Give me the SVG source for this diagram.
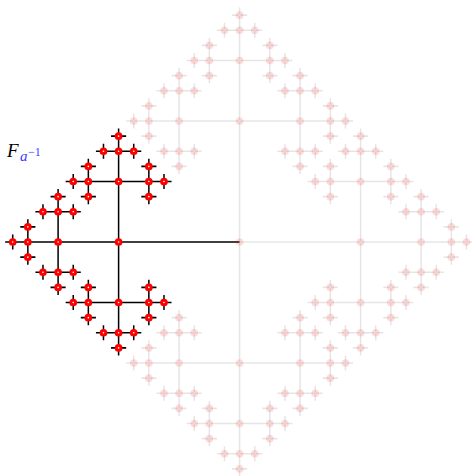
<svg xmlns="http://www.w3.org/2000/svg" xmlns:xlink="http://www.w3.org/1999/xlink" width="472" height="476" viewBox="0 0 472 476">
<style>
.e{fill:none;stroke:#000;stroke-width:.2}
.f{opacity:.1}
.n{fill:#fff;stroke:#f00;stroke-width:.4}
.fn .n{opacity:.13}
.lbl{font-family:"Liberation Serif","Times New Roman",serif;font-style:italic}
</style>
<defs>
<path id="sub" d="M0,0H-16M-16,-8V8M-16,0H-24M-24,-4V4M-24,0H-28M-20,-8H-12M-16,-8V-12M-20,8H-12M-16,8V12M-28,-2V2M-28,0H-30M-26,-4H-22M-24,-4V-6M-26,4H-22M-24,4V6M-18,-12H-14M-16,-12V-14M-20,-10V-6M-20,-8H-22M-12,-10V-6M-12,-8H-10M-18,12H-14M-16,12V14M-20,6V10M-20,8H-22M-12,6V10M-12,8H-10M-30,-1V1M-30,0H-31M-29,-2H-27M-28,-2V-3M-29,2H-27M-28,2V3M-25,-6H-23M-24,-6V-7M-26,-5V-3M-26,-4H-27M-22,-5V-3M-22,-4H-21M-25,6H-23M-24,6V7M-26,3V5M-26,4H-27M-22,3V5M-22,4H-21M-17,-14H-15M-16,-14V-15M-18,-13V-11M-18,-12H-19M-14,-13V-11M-14,-12H-13M-22,-9V-7M-22,-8H-23M-21,-10H-19M-20,-10V-11M-21,-6H-19M-20,-6V-5M-10,-9V-7M-10,-8H-9M-13,-10H-11M-12,-10V-11M-13,-6H-11M-12,-6V-5M-17,14H-15M-16,14V15M-18,11V13M-18,12H-19M-14,11V13M-14,12H-13M-22,7V9M-22,8H-23M-21,6H-19M-20,6V5M-21,10H-19M-20,10V11M-10,7V9M-10,8H-9M-13,6H-11M-12,6V5M-13,10H-11M-12,10V11"/>
</defs>
<g id="connectors" transform="translate(239.6,242) scale(7.5625)">
<g class="e">
<use xlink:href="#sub" class="f" transform="scale(-1,1)"/>
<use xlink:href="#sub" class="f" transform="matrix(0,1,1,0,0,0)"/>
<use xlink:href="#sub" class="f" transform="matrix(0,-1,1,0,0,0)"/>
<use xlink:href="#sub"/>
</g>
</g>
<g id="nodes" transform="translate(239.6,242) scale(7.5625)">
<g class="fn">
<g id="e"><circle class="n" cx="0" cy="0" r=".31"/></g>
<g id="branch-a" transform="scale(-1,1)">
<g id="R01"><circle class="n" cx="-16" cy="0" r=".31"/></g>
<g id="R02"><circle class="n" cx="-24" cy="0" r=".31"/></g>
<g id="R03"><circle class="n" cx="-16" cy="-8" r=".31"/></g>
<g id="R04"><circle class="n" cx="-16" cy="8" r=".31"/></g>
<g id="R05"><circle class="n" cx="-28" cy="0" r=".31"/></g>
<g id="R06"><circle class="n" cx="-24" cy="-4" r=".31"/></g>
<g id="R07"><circle class="n" cx="-24" cy="4" r=".31"/></g>
<g id="R08"><circle class="n" cx="-16" cy="-12" r=".31"/></g>
<g id="R09"><circle class="n" cx="-20" cy="-8" r=".31"/></g>
<g id="R10"><circle class="n" cx="-12" cy="-8" r=".31"/></g>
<g id="R11"><circle class="n" cx="-16" cy="12" r=".31"/></g>
<g id="R12"><circle class="n" cx="-20" cy="8" r=".31"/></g>
<g id="R13"><circle class="n" cx="-12" cy="8" r=".31"/></g>
<g id="R14"><circle class="n" cx="-30" cy="0" r=".31"/></g>
<g id="R15"><circle class="n" cx="-28" cy="-2" r=".31"/></g>
<g id="R16"><circle class="n" cx="-28" cy="2" r=".31"/></g>
<g id="R17"><circle class="n" cx="-24" cy="-6" r=".31"/></g>
<g id="R18"><circle class="n" cx="-26" cy="-4" r=".31"/></g>
<g id="R19"><circle class="n" cx="-22" cy="-4" r=".31"/></g>
<g id="R20"><circle class="n" cx="-24" cy="6" r=".31"/></g>
<g id="R21"><circle class="n" cx="-26" cy="4" r=".31"/></g>
<g id="R22"><circle class="n" cx="-22" cy="4" r=".31"/></g>
<g id="R23"><circle class="n" cx="-16" cy="-14" r=".31"/></g>
<g id="R24"><circle class="n" cx="-18" cy="-12" r=".31"/></g>
<g id="R25"><circle class="n" cx="-14" cy="-12" r=".31"/></g>
<g id="R26"><circle class="n" cx="-22" cy="-8" r=".31"/></g>
<g id="R27"><circle class="n" cx="-20" cy="-10" r=".31"/></g>
<g id="R28"><circle class="n" cx="-20" cy="-6" r=".31"/></g>
<g id="R29"><circle class="n" cx="-10" cy="-8" r=".31"/></g>
<g id="R30"><circle class="n" cx="-12" cy="-10" r=".31"/></g>
<g id="R31"><circle class="n" cx="-12" cy="-6" r=".31"/></g>
<g id="R32"><circle class="n" cx="-16" cy="14" r=".31"/></g>
<g id="R33"><circle class="n" cx="-18" cy="12" r=".31"/></g>
<g id="R34"><circle class="n" cx="-14" cy="12" r=".31"/></g>
<g id="R35"><circle class="n" cx="-22" cy="8" r=".31"/></g>
<g id="R36"><circle class="n" cx="-20" cy="6" r=".31"/></g>
<g id="R37"><circle class="n" cx="-20" cy="10" r=".31"/></g>
<g id="R38"><circle class="n" cx="-10" cy="8" r=".31"/></g>
<g id="R39"><circle class="n" cx="-12" cy="6" r=".31"/></g>
<g id="R40"><circle class="n" cx="-12" cy="10" r=".31"/></g>
</g>
<g id="branch-b" transform="matrix(0,1,1,0,0,0)">
<g id="U01"><circle class="n" cx="-16" cy="0" r=".31"/></g>
<g id="U02"><circle class="n" cx="-24" cy="0" r=".31"/></g>
<g id="U03"><circle class="n" cx="-16" cy="-8" r=".31"/></g>
<g id="U04"><circle class="n" cx="-16" cy="8" r=".31"/></g>
<g id="U05"><circle class="n" cx="-28" cy="0" r=".31"/></g>
<g id="U06"><circle class="n" cx="-24" cy="-4" r=".31"/></g>
<g id="U07"><circle class="n" cx="-24" cy="4" r=".31"/></g>
<g id="U08"><circle class="n" cx="-16" cy="-12" r=".31"/></g>
<g id="U09"><circle class="n" cx="-20" cy="-8" r=".31"/></g>
<g id="U10"><circle class="n" cx="-12" cy="-8" r=".31"/></g>
<g id="U11"><circle class="n" cx="-16" cy="12" r=".31"/></g>
<g id="U12"><circle class="n" cx="-20" cy="8" r=".31"/></g>
<g id="U13"><circle class="n" cx="-12" cy="8" r=".31"/></g>
<g id="U14"><circle class="n" cx="-30" cy="0" r=".31"/></g>
<g id="U15"><circle class="n" cx="-28" cy="-2" r=".31"/></g>
<g id="U16"><circle class="n" cx="-28" cy="2" r=".31"/></g>
<g id="U17"><circle class="n" cx="-24" cy="-6" r=".31"/></g>
<g id="U18"><circle class="n" cx="-26" cy="-4" r=".31"/></g>
<g id="U19"><circle class="n" cx="-22" cy="-4" r=".31"/></g>
<g id="U20"><circle class="n" cx="-24" cy="6" r=".31"/></g>
<g id="U21"><circle class="n" cx="-26" cy="4" r=".31"/></g>
<g id="U22"><circle class="n" cx="-22" cy="4" r=".31"/></g>
<g id="U23"><circle class="n" cx="-16" cy="-14" r=".31"/></g>
<g id="U24"><circle class="n" cx="-18" cy="-12" r=".31"/></g>
<g id="U25"><circle class="n" cx="-14" cy="-12" r=".31"/></g>
<g id="U26"><circle class="n" cx="-22" cy="-8" r=".31"/></g>
<g id="U27"><circle class="n" cx="-20" cy="-10" r=".31"/></g>
<g id="U28"><circle class="n" cx="-20" cy="-6" r=".31"/></g>
<g id="U29"><circle class="n" cx="-10" cy="-8" r=".31"/></g>
<g id="U30"><circle class="n" cx="-12" cy="-10" r=".31"/></g>
<g id="U31"><circle class="n" cx="-12" cy="-6" r=".31"/></g>
<g id="U32"><circle class="n" cx="-16" cy="14" r=".31"/></g>
<g id="U33"><circle class="n" cx="-18" cy="12" r=".31"/></g>
<g id="U34"><circle class="n" cx="-14" cy="12" r=".31"/></g>
<g id="U35"><circle class="n" cx="-22" cy="8" r=".31"/></g>
<g id="U36"><circle class="n" cx="-20" cy="6" r=".31"/></g>
<g id="U37"><circle class="n" cx="-20" cy="10" r=".31"/></g>
<g id="U38"><circle class="n" cx="-10" cy="8" r=".31"/></g>
<g id="U39"><circle class="n" cx="-12" cy="6" r=".31"/></g>
<g id="U40"><circle class="n" cx="-12" cy="10" r=".31"/></g>
</g>
<g id="branch-b-1" transform="matrix(0,-1,1,0,0,0)">
<g id="D01"><circle class="n" cx="-16" cy="0" r=".31"/></g>
<g id="D02"><circle class="n" cx="-24" cy="0" r=".31"/></g>
<g id="D03"><circle class="n" cx="-16" cy="-8" r=".31"/></g>
<g id="D04"><circle class="n" cx="-16" cy="8" r=".31"/></g>
<g id="D05"><circle class="n" cx="-28" cy="0" r=".31"/></g>
<g id="D06"><circle class="n" cx="-24" cy="-4" r=".31"/></g>
<g id="D07"><circle class="n" cx="-24" cy="4" r=".31"/></g>
<g id="D08"><circle class="n" cx="-16" cy="-12" r=".31"/></g>
<g id="D09"><circle class="n" cx="-20" cy="-8" r=".31"/></g>
<g id="D10"><circle class="n" cx="-12" cy="-8" r=".31"/></g>
<g id="D11"><circle class="n" cx="-16" cy="12" r=".31"/></g>
<g id="D12"><circle class="n" cx="-20" cy="8" r=".31"/></g>
<g id="D13"><circle class="n" cx="-12" cy="8" r=".31"/></g>
<g id="D14"><circle class="n" cx="-30" cy="0" r=".31"/></g>
<g id="D15"><circle class="n" cx="-28" cy="-2" r=".31"/></g>
<g id="D16"><circle class="n" cx="-28" cy="2" r=".31"/></g>
<g id="D17"><circle class="n" cx="-24" cy="-6" r=".31"/></g>
<g id="D18"><circle class="n" cx="-26" cy="-4" r=".31"/></g>
<g id="D19"><circle class="n" cx="-22" cy="-4" r=".31"/></g>
<g id="D20"><circle class="n" cx="-24" cy="6" r=".31"/></g>
<g id="D21"><circle class="n" cx="-26" cy="4" r=".31"/></g>
<g id="D22"><circle class="n" cx="-22" cy="4" r=".31"/></g>
<g id="D23"><circle class="n" cx="-16" cy="-14" r=".31"/></g>
<g id="D24"><circle class="n" cx="-18" cy="-12" r=".31"/></g>
<g id="D25"><circle class="n" cx="-14" cy="-12" r=".31"/></g>
<g id="D26"><circle class="n" cx="-22" cy="-8" r=".31"/></g>
<g id="D27"><circle class="n" cx="-20" cy="-10" r=".31"/></g>
<g id="D28"><circle class="n" cx="-20" cy="-6" r=".31"/></g>
<g id="D29"><circle class="n" cx="-10" cy="-8" r=".31"/></g>
<g id="D30"><circle class="n" cx="-12" cy="-10" r=".31"/></g>
<g id="D31"><circle class="n" cx="-12" cy="-6" r=".31"/></g>
<g id="D32"><circle class="n" cx="-16" cy="14" r=".31"/></g>
<g id="D33"><circle class="n" cx="-18" cy="12" r=".31"/></g>
<g id="D34"><circle class="n" cx="-14" cy="12" r=".31"/></g>
<g id="D35"><circle class="n" cx="-22" cy="8" r=".31"/></g>
<g id="D36"><circle class="n" cx="-20" cy="6" r=".31"/></g>
<g id="D37"><circle class="n" cx="-20" cy="10" r=".31"/></g>
<g id="D38"><circle class="n" cx="-10" cy="8" r=".31"/></g>
<g id="D39"><circle class="n" cx="-12" cy="6" r=".31"/></g>
<g id="D40"><circle class="n" cx="-12" cy="10" r=".31"/></g>
</g>
</g>
<g id="branch-a-1">
<g id="L01"><circle class="n" cx="-16" cy="0" r=".31"/></g>
<g id="L02"><circle class="n" cx="-24" cy="0" r=".31"/></g>
<g id="L03"><circle class="n" cx="-16" cy="-8" r=".31"/></g>
<g id="L04"><circle class="n" cx="-16" cy="8" r=".31"/></g>
<g id="L05"><circle class="n" cx="-28" cy="0" r=".31"/></g>
<g id="L06"><circle class="n" cx="-24" cy="-4" r=".31"/></g>
<g id="L07"><circle class="n" cx="-24" cy="4" r=".31"/></g>
<g id="L08"><circle class="n" cx="-16" cy="-12" r=".31"/></g>
<g id="L09"><circle class="n" cx="-20" cy="-8" r=".31"/></g>
<g id="L10"><circle class="n" cx="-12" cy="-8" r=".31"/></g>
<g id="L11"><circle class="n" cx="-16" cy="12" r=".31"/></g>
<g id="L12"><circle class="n" cx="-20" cy="8" r=".31"/></g>
<g id="L13"><circle class="n" cx="-12" cy="8" r=".31"/></g>
<g id="L14"><circle class="n" cx="-30" cy="0" r=".31"/></g>
<g id="L15"><circle class="n" cx="-28" cy="-2" r=".31"/></g>
<g id="L16"><circle class="n" cx="-28" cy="2" r=".31"/></g>
<g id="L17"><circle class="n" cx="-24" cy="-6" r=".31"/></g>
<g id="L18"><circle class="n" cx="-26" cy="-4" r=".31"/></g>
<g id="L19"><circle class="n" cx="-22" cy="-4" r=".31"/></g>
<g id="L20"><circle class="n" cx="-24" cy="6" r=".31"/></g>
<g id="L21"><circle class="n" cx="-26" cy="4" r=".31"/></g>
<g id="L22"><circle class="n" cx="-22" cy="4" r=".31"/></g>
<g id="L23"><circle class="n" cx="-16" cy="-14" r=".31"/></g>
<g id="L24"><circle class="n" cx="-18" cy="-12" r=".31"/></g>
<g id="L25"><circle class="n" cx="-14" cy="-12" r=".31"/></g>
<g id="L26"><circle class="n" cx="-22" cy="-8" r=".31"/></g>
<g id="L27"><circle class="n" cx="-20" cy="-10" r=".31"/></g>
<g id="L28"><circle class="n" cx="-20" cy="-6" r=".31"/></g>
<g id="L29"><circle class="n" cx="-10" cy="-8" r=".31"/></g>
<g id="L30"><circle class="n" cx="-12" cy="-10" r=".31"/></g>
<g id="L31"><circle class="n" cx="-12" cy="-6" r=".31"/></g>
<g id="L32"><circle class="n" cx="-16" cy="14" r=".31"/></g>
<g id="L33"><circle class="n" cx="-18" cy="12" r=".31"/></g>
<g id="L34"><circle class="n" cx="-14" cy="12" r=".31"/></g>
<g id="L35"><circle class="n" cx="-22" cy="8" r=".31"/></g>
<g id="L36"><circle class="n" cx="-20" cy="6" r=".31"/></g>
<g id="L37"><circle class="n" cx="-20" cy="10" r=".31"/></g>
<g id="L38"><circle class="n" cx="-10" cy="8" r=".31"/></g>
<g id="L39"><circle class="n" cx="-12" cy="6" r=".31"/></g>
<g id="L40"><circle class="n" cx="-12" cy="10" r=".31"/></g>
</g>
</g>
<g id="label">
<text class="lbl" x="7" y="157" font-size="19" fill="#000">F</text>
<text class="lbl" x="20" y="160.5" font-size="15" fill="#3c3cff">a</text>
<text x="28" y="156" font-size="12" fill="#3c3cff" font-family="'Liberation Serif','Times New Roman',serif">−1</text>
</g>
</svg>
